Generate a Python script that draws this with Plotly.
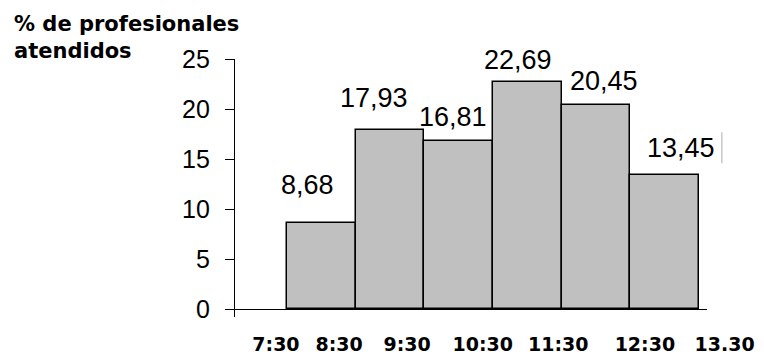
import plotly.graph_objects as go

# ---- data ----
intervals = ["7:30-8:30", "8:30-9:30", "9:30-10:30", "10:30-11:30", "11:30-12:30", "12:30-13:30"]
values = [8.68, 17.93, 16.81, 22.69, 20.45, 13.45]
value_labels = ["8,68", "17,93", "16,81", "22,69", "20,45", "13,45"]
time_labels = ["7:30", "8:30", "9:30", "10:30", "11:30", "12:30", "13.30"]
y_ticks = [0, 5, 10, 15, 20, 25]

# ---- layout helpers ----
bar_pos = list(range(1, len(values) + 1))
time_label_pos = [0.34, 1.26, 2.25, 3.35, 4.45, 5.71, 6.87]
label_dx = [-14, -16, -6, -9, 8, 16]
label_dy = [38, 32, 24, 22, 24, 27]

fig = go.Figure()
fig.add_bar(
    x=bar_pos, y=values, width=1,
    marker=dict(color="#c0c0c0", line=dict(color="black", width=1.5)),
    hoverinfo="skip", showlegend=False,
)

for xp, v, t, dx, dy in zip(bar_pos, values, value_labels, label_dx, label_dy):
    fig.add_annotation(
        x=xp, y=v, text=t, showarrow=False, xanchor="center", yanchor="middle",
        xshift=dx, yshift=dy,
        font=dict(family="Liberation Sans, Arial", size=27, color="black"),
    )

# baseline
fig.add_shape(type="line", xref="x", yref="y", x0=-0.256, x1=6.614, y0=0, y1=0,
              line=dict(color="black", width=1.2))
# faint cursor mark near last label
fig.add_shape(type="line", xref="x", yref="y", x0=6.83, x1=6.83, y0=14.6, y1=17.7,
              line=dict(color="#c8c8c8", width=1.5))

fig.update_layout(
    width=764, height=354,
    margin=dict(l=235, r=14, t=59, b=37, autoexpand=False),
    paper_bgcolor="white", plot_bgcolor="white",
    title=dict(
        text="<b>% de profesionales<br>atendidos</b>",
        xref="container", yref="container", x=14 / 764, xanchor="left",
        y=1 - 31 / 354, yanchor="top", automargin=False,
        font=dict(family="DejaVu Sans", size=21, color="black"),
    ),
    xaxis=dict(
        range=[-0.256, 7.24], showline=False, zeroline=False, showgrid=False,
        tickmode="array", tickvals=time_label_pos, ticktext=time_labels,
        ticks="", ticklabelstandoff=14, automargin=False,
        tickfont=dict(family="DejaVu Sans", size=19, color="black", weight="bold"),
        fixedrange=True,
    ),
    yaxis=dict(
        range=[-0.75, 25], showline=True, linecolor="black", linewidth=1.2,
        zeroline=False, showgrid=False, automargin=False,
        tickmode="array", tickvals=y_ticks,
        ticks="outside", ticklen=9, tickcolor="black", tickwidth=1.2,
        ticklabelstandoff=10,
        tickfont=dict(family="Liberation Sans, Arial", size=25, color="black"),
        fixedrange=True,
    ),
    bargap=0,
)

fig.write_html("out.html")
